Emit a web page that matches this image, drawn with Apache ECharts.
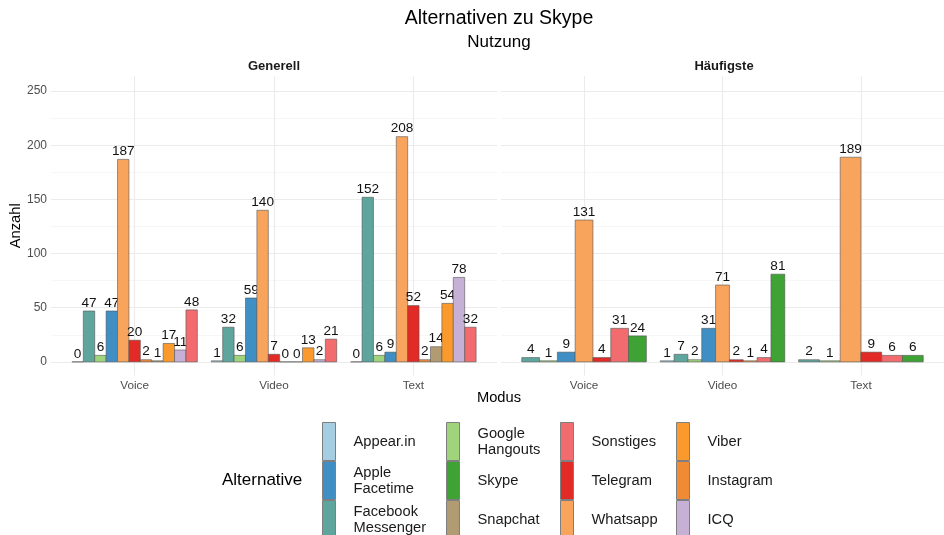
<!DOCTYPE html>
<html>
<head>
<meta charset="utf-8">
<title>Alternativen zu Skype</title>
<script src="https://cdn.jsdelivr.net/npm/echarts@6.0.0/dist/echarts.min.js"></script>
<style>
  html, body { margin: 0; padding: 0; background: #fff; }
  #myChart { width: 944px; height: 535px; }
</style>
</head>
<body>
<div id="myChart"></div>
<script>
  const categories = ['Voice', 'Video', 'Text'];
  const facets = ['Generell', 'Häufigste'];
  // order of the bars inside one group (left to right)
  const alternatives = ['Appear.in', 'Facebook Messenger', 'Google Hangouts', 'Apple Facetime', 'Whatsapp',
    'Telegram', 'Instagram', 'Snapchat', 'Viber', 'ICQ', 'Sonstiges', 'Skype'];
  const colors = ['#a6cee3', '#5ea59d', '#9fd47d', '#3f8ec4', '#f9a45c',
    '#e22b26', '#ef8a35', '#b19b72', '#fb9a2c', '#c7b0d6', '#f16b6f', '#3ea334'];

  // Anzahl per group, same order as alternatives (null = no bar)
  const generellVoice = [0, 47, 6, 47, 187, 20, 2, 1, 17, 11, 48, null];
  const generellVideo = [1, 32, 6, 59, 140, 7, 0, 0, 13, 2, 21, null];
  const generellText = [0, 152, 6, 9, 208, 52, 2, 14, 54, 78, 32, null];
  const haeufigsteVoice = [null, 4, 1, 9, 131, 4, null, null, null, null, 31, 24];
  const haeufigsteVideo = [1, 7, 2, 31, 71, 2, null, null, 1, null, 4, 81];
  const haeufigsteText = [null, 2, 1, null, 189, 9, null, null, null, null, 6, 6];

  const yTicks = [0, 50, 100, 150, 200, 250];
  const yMinorTicks = [25, 75, 125, 175, 225];
  const legendColumns = [
    ['Appear.in', 'Apple Facetime', 'Facebook Messenger'],
    ['Google Hangouts', 'Skype', 'Snapchat'],
    ['Sonstiges', 'Telegram', 'Whatsapp'],
    ['Viber', 'Instagram', 'ICQ']
  ];

  const font = 'Liberation Sans, Arial, Helvetica, sans-serif';
  const panelData = [
    [generellVoice, generellVideo, generellText],
    [haeufigsteVoice, haeufigsteVideo, haeufigsteText]
  ];
  const panelLeft = [51, 501];
  const panelWidth = 446;
  const panelTop = 76;
  const panelHeight = 299.5;

  // dodged bar: [x, value, slot, barsInGroup]
  function drawBar (params, api) {
    let x = api.value(0), v = api.value(1), slot = api.value(2), n = api.value(3);
    let w = 0.9 / n;
    let x0 = x - 0.45 + slot * w;
    let p0 = api.coord([x0, 0]);
    let p1 = api.coord([x0 + w, v]);
    return {
      type: 'group',
      children: [
        {
          type: 'rect',
          shape: { x: p0[0], y: p1[1], width: p1[0] - p0[0], height: p0[1] - p1[1] },
          style: { fill: api.visual('color'), stroke: '#555', lineWidth: 0.6 }
        },
        {
          type: 'text',
          x: (p0[0] + p1[0]) / 2,
          y: p1[1] - 1,
          style: { text: String(v), align: 'center', verticalAlign: 'bottom',
            fontSize: 13.6, fontFamily: font, fill: '#111' }
        }
      ]
    };
  }

  let grid = [], xAxis = [], yAxis = [], series = [];
  panelData.forEach((groups, f) => {
    grid.push({ left: panelLeft[f], top: panelTop, width: panelWidth, height: panelHeight });
    xAxis.push({
      type: 'value', gridIndex: f, min: 0.4, max: 3.6,
      axisLine: { show: false },
      axisTick: { show: false, customValues: [1, 2, 3] },
      axisLabel: { customValues: [1, 2, 3], formatter: v => categories[Math.round(v) - 1],
        color: '#4d4d4d', fontSize: 11.7, fontFamily: font, margin: 4 },
      splitLine: { show: true, lineStyle: { color: '#ebebeb', width: 1.1 } }
    });
    yAxis.push({
      type: 'value', gridIndex: f, min: -12.57, max: 264,
      axisLine: { show: false },
      axisTick: { show: false, customValues: yTicks },
      axisLabel: { show: f === 0, customValues: yTicks, color: '#4d4d4d',
        fontSize: 12, fontFamily: font, margin: 4 },
      splitLine: { show: true, lineStyle: { color: '#ebebeb', width: 1.1 } },
      name: f === 0 ? 'Anzahl' : '',
      nameLocation: 'middle', nameRotate: 90, nameGap: 26,
      nameTextStyle: { fontSize: 14.7, fontFamily: font, color: '#000' }
    });
    yAxis.push({
      type: 'value', gridIndex: f, min: -12.57, max: 264,
      axisLine: { show: false },
      axisTick: { show: false, customValues: yMinorTicks },
      axisLabel: { show: false, customValues: yMinorTicks },
      splitLine: { show: true, lineStyle: { color: '#f0f0f0', width: 0.6 } }
    });
    alternatives.forEach((alt, a) => {
      let data = [];
      groups.forEach((vals, c) => {
        if (vals[a] == null) return;
        let n = vals.filter(v => v != null).length;
        let slot = vals.slice(0, a).filter(v => v != null).length;
        data.push([c + 1, vals[a], slot, n]);
      });
      if (!data.length) return;
      series.push({
        type: 'custom', name: alt, xAxisIndex: f, yAxisIndex: f * 2,
        itemStyle: { color: colors[a] },
        encode: { x: 0, y: 1 },
        renderItem: drawBar,
        data: data
      });
    });
  });

  const legendLeft = [322, 446, 560, 676];
  let legend = legendColumns.map((col, i) => ({
    orient: 'vertical', left: legendLeft[i], top: 422, height: 140, padding: 0,
    itemWidth: 13, itemHeight: 38, itemGap: 0,
    selectedMode: false,
    icon: 'rect',
    itemStyle: { borderColor: '#7f7f7f', borderWidth: 1 },
    data: col,
    formatter: name => name.replace(' ', '\n'),
    textStyle: { fontSize: 14.7, fontFamily: font, color: '#1a1a1a', lineHeight: 16,
      padding: [5, 0, 0, 13] }
  }));

  const midX = (panelLeft[0] + panelLeft[1] + panelWidth) / 2;
  let graphic = [
    { type: 'text', x: midX, y: 19, style: { text: 'Alternativen zu Skype', align: 'center',
      verticalAlign: 'middle', fontSize: 19.5, fontFamily: font, fill: '#000' } },
    { type: 'text', x: midX, y: 42, style: { text: 'Nutzung', align: 'center',
      verticalAlign: 'middle', fontSize: 17, fontFamily: font, fill: '#000' } },
    { type: 'text', x: midX, y: 398, style: { text: 'Modus', align: 'center',
      verticalAlign: 'middle', fontSize: 14.7, fontFamily: font, fill: '#000' } },
    { type: 'text', x: 222, y: 480, style: { text: 'Alternative', align: 'left',
      verticalAlign: 'middle', fontSize: 17, fontFamily: font, fill: '#000' } }
  ];
  facets.forEach((name, f) => {
    graphic.push({ type: 'text', x: panelLeft[f] + panelWidth / 2, y: 66, style: { text: name,
      align: 'center', verticalAlign: 'middle', fontSize: 13, fontWeight: 'bold',
      fontFamily: font, fill: '#1a1a1a' } });
  });

  let myChart = echarts.init(document.getElementById('myChart'));
  myChart.setOption({
    backgroundColor: '#fff',
    animation: false,
    grid: grid,
    xAxis: xAxis,
    yAxis: yAxis,
    legend: legend,
    graphic: graphic,
    series: series
  });
</script>
</body>
</html>
